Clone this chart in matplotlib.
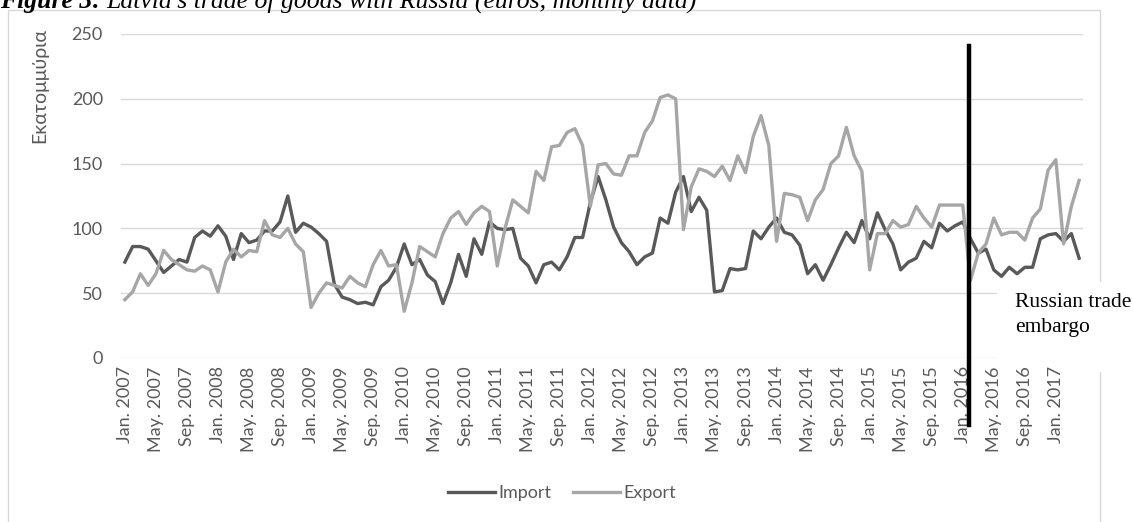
import numpy as np
import matplotlib.pyplot as plt
from matplotlib.patches import Rectangle

# monthly values, Jan 2007 - Apr 2017 (millions of euros)
imports = [74, 86, 86, 84, 75, 66, 71, 76, 74, 93, 98, 94,
           102, 94, 76, 96, 89, 91, 98, 98, 105, 125, 97, 104,
           101, 96, 90, 57, 47, 45, 42, 43, 41, 55, 60, 70,
           88, 72, 76, 64, 59, 42, 58, 80, 63, 92, 80, 105,
           100, 99, 100, 77, 71, 58, 72, 74, 68, 78, 93, 93,
           120, 140, 122, 101, 89, 82, 72, 78, 81, 108, 104, 128,
           140, 113, 124, 114, 51, 52, 69, 68, 69, 98, 92, 101,
           108, 97, 95, 87, 65, 72, 60, 72, 85, 97, 89, 106,
           92, 112, 99, 88, 68, 74, 77, 90, 85, 104, 98, 102,
           105, 92, 81, 84, 68, 63, 70, 65, 70, 70, 92, 95,
           96, 90, 96, 77]
exports = [45, 51, 65, 56, 65, 83, 76, 72, 68, 67, 71, 68,
           51, 74, 84, 78, 83, 82, 106, 95, 93, 100, 88, 82,
           39, 50, 58, 56, 54, 63, 58, 55, 72, 83, 71, 72,
           36, 58, 86, 82, 78, 96, 108, 113, 103, 112, 117, 113,
           71, 100, 122, 117, 112, 144, 137, 163, 164, 174, 177, 164,
           117, 149, 150, 142, 141, 156, 156, 174, 183, 201, 203, 200,
           99, 132, 146, 144, 140, 148, 137, 156, 143, 171, 187, 164,
           90, 127, 126, 124, 106, 122, 130, 150, 156, 178, 156, 144,
           68, 96, 96, 106, 101, 103, 117, 108, 101, 118, 118, 118,
           118, 60, 81, 88, 108, 95, 97, 97, 91, 108, 115, 145,
           153, 88, 117, 137]
tick_labels = [f"{m} {y}" for y in range(2007, 2018)
               for m in ("Jan.", "May.", "Sep.")][:31]
y_ticks = [0, 50, 100, 150, 200, 250]
embargo_pos = 108.8   # Jan. 2016
embargo_label = "Russian trade\nembargo"

W, H = 1133, 522
fig = plt.figure(figsize=(W / 100, H / 100), dpi=100)
sans = ['Lato', 'Noto Sans']

# outer chart border
fig.patches.append(Rectangle((8 / W, -0.1), (1100 - 8) / W, 1.1 - 10 / H,
                             transform=fig.transFigure, fill=False,
                             ec='#D9D9D9', lw=1, zorder=0.5))

ax = fig.add_axes([121 / W, 1 - 358 / H, (1083 - 121) / W, (358 - 34) / H])
x = np.arange(len(imports))
ax.plot(x, imports, color='#595959', lw=2.4, label='Import', solid_joinstyle='round')
ax.plot(x, exports, color='#A6A6A6', lw=2.4, label='Export', solid_joinstyle='round')

ax.set_xlim(-0.5, 123.5)
ax.set_ylim(0, 250)
ax.set_yticks(y_ticks)
ax.set_xticks(x[::4])
ax.set_xticklabels(tick_labels, rotation=90)
ax.yaxis.grid(True, color='#D9D9D9', lw=1)
ax.set_axisbelow(True)
for s in ax.spines.values():
    s.set_visible(False)
ax.tick_params(length=0, colors='#595959', labelsize=13)
ax.tick_params(axis='y', pad=13)
ax.tick_params(axis='x', pad=6)
for lab in ax.get_xticklabels() + ax.get_yticklabels():
    lab.set_family(sans)

# embargo marker
ax.axvline(embargo_pos, ymin=-0.207, ymax=0.963, color='black', lw=3.2,
           clip_on=False, zorder=5)
fig.patches.append(Rectangle((997 / W, 1 - 360 / H), (1133 - 997) / W, 78 / H,
                             transform=fig.transFigure, fc='white', ec='none',
                             zorder=2))
fig.patches.append(Rectangle((1085 / W, 1 - 372 / H), (1133 - 1085) / W, 14 / H,
                             transform=fig.transFigure, fc='white', ec='none',
                             zorder=2))
fig.text(1015 / W, 1 - 293 / H, embargo_label, family='Liberation Serif',
         fontsize=15.5, va='top', ha='left', linespacing=1.4, zorder=3)

fig.text(40 / W, 1 - 28 / H, 'Εκατομμύρια', rotation=90, va='top', ha='center',
         color='#595959', fontsize=14, family=sans)

# title (cut at top as in the source)
t1 = fig.text(0, 1 - 8 / H, "Figure 3:", family='Liberation Serif',
              fontweight='bold', style='italic', fontsize=18.5, va='baseline')
r = fig.canvas.get_renderer()
bb = t1.get_window_extent(r)
fig.text(bb.x1 / W + 5 / W, 1 - 8 / H,
         "Latvia's trade of goods with Russia (euros, monthly data)",
         family='Liberation Serif', style='italic', fontsize=18.5, va='baseline')

fig.legend(loc='center', bbox_to_anchor=(562 / W, 1 - 493 / H), ncol=2,
           frameon=False, handlelength=2.6, handletextpad=0.2,
           columnspacing=1.2, labelcolor='#595959',
           prop={'family': sans, 'size': 13})

fig.savefig('out.png', dpi=100)
